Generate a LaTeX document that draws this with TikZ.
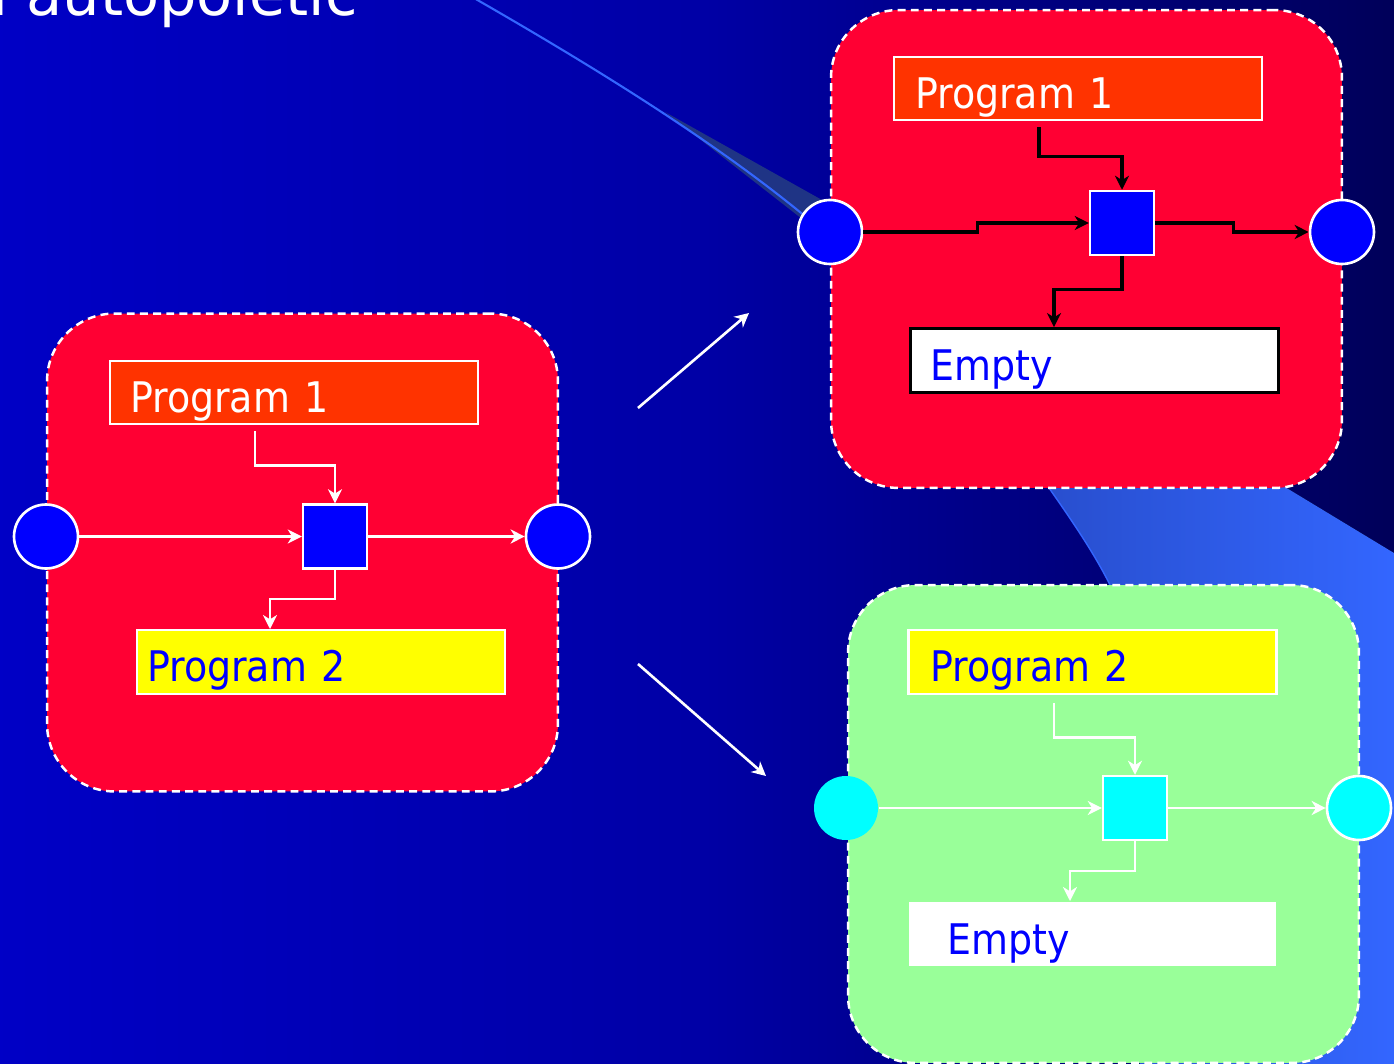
\documentclass[tikz,border=0pt]{standalone}
\usepackage{fontspec}
\setmainfont{DejaVu Sans}[FakeStretch=0.9]
\newfontfamily\titlefont{DejaVu Sans}
\usetikzlibrary{arrows.meta}

\definecolor{framered}{RGB}{255,0,51}
\definecolor{progorange}{RGB}{255,51,0}
\definecolor{framegreen}{RGB}{153,255,153}
\definecolor{progyellow}{RGB}{255,255,0}
\definecolor{procblue}{RGB}{0,0,255}
\definecolor{proccyan}{RGB}{0,255,255}
\definecolor{swoosh}{RGB}{51,102,255}
\definecolor{swooshdark}{RGB}{40,78,205}
\definecolor{wedge}{RGB}{31,52,133}
\pgfdeclarehorizontalshading{slidebg}{100bp}{rgb(0bp)=(0,0,0.9); rgb(50bp)=(0,0,0.65); rgb(75bp)=(0,0,0.35); rgb(100bp)=(0,0,0.12)}

\begin{document}
\begin{tikzpicture}[x=0.02cm, y=-0.02cm,
	frame/.style={draw=white, line width=1.4pt, dash pattern=on 4.5pt off 3pt, rounded corners=1.35cm, minimum width=10.22cm, minimum height=9.56cm},
	prog/.style={draw=white, line width=1.4pt, minimum width=7.36cm, minimum height=1.27cm, text height=0.8cm, text depth=0pt, align=left, font=\fontsize{24}{28}\selectfont},
	port/.style={circle, draw=white, line width=1.5pt, minimum size=1.28cm, inner sep=0pt},
	proc/.style={draw=white, line width=1.4pt, minimum size=1.28cm, inner sep=0pt},
	warrow/.style={white, line width=1.5pt, -{Stealth[length=8pt,width=8pt,inset=2.5pt]}},
	barrow/.style={black, line width=1.8pt, -{Stealth[length=8pt,width=8pt,inset=2.5pt]}}]

		\useasboundingbox (0,0) rectangle (1394,1064);
		\clip (0,0) rectangle (1394,1064);
		\fill[shading=slidebg] (0,0) rectangle (1394,1064);

		% swoosh of the slide
		\fill[left color=swooshdark, right color=swoosh] (1040,470) -- (1049,488) .. controls (1075,525) and (1095,555) .. (1110,585) -- (1140,1064) -- (1394,1064) -- (1394,553) -- (1285,487) -- (1280,470) -- cycle;
		\draw[swoosh, line width=0.8pt] (1049,488) .. controls (1075,525) and (1095,555) .. (1110,585);
		\fill[wedge] (665,112) -- (822,200) -- (806,222) -- cycle;
		\draw[swoosh, line width=1.2pt] (460,-10) .. controls (600,70) and (720,145) .. (812,222);

		\node[anchor=base west, text=white, inner sep=0pt, font=\titlefont\fontsize{33.6}{40}\selectfont] (title) at (-30,16) {n autopoietic};

		\coordinate (up0) at (638,408);
		\coordinate (up1) at (749,313);
		\coordinate (dn0) at (638,664);
		\coordinate (dn1) at (766,776);
		\draw[warrow] (up0) -- (up1);
		\draw[warrow] (dn0) -- (dn1);

		\begin{scope}
			% left system
			\node[frame, fill=framered] (lframe) at (302.5,552.5) {};
			\node[prog, fill=progorange, text=white, text width=6.56cm, inner xsep=0.4cm] (lprog1) at (294,392.5) {Program 1};
			\node[prog, fill=progyellow, text=procblue, text width=6.96cm, inner xsep=0.2cm] (lprog2) at (321,662) {Program 2};
			\node[proc, fill=procblue] (lsq) at (335,536.5) {};
			\node[port, fill=procblue] (lin) at (46,536.5) {};
			\node[port, fill=procblue] (lout) at (558,536.5) {};

			\draw[warrow] ([xshift=-0.78cm,yshift=-0.12cm]lprog1.south) |- ([yshift=0.76cm]lsq.north) -- (lsq.north);
			\draw[warrow] (lin.east) -- (lsq.west);
			\draw[warrow] (lsq.east) -- (lout.west);
			\draw[warrow] (lsq.south) |- ([xshift=-1.02cm,yshift=0.6cm]lprog2.north) -- ([xshift=-1.02cm]lprog2.north);
		\end{scope}

		\begin{scope}
			% top right system
			\node[frame, fill=framered] (tframe) at (1086.5,249) {};
			\node[prog, fill=progorange, text=white, text width=6.52cm, inner xsep=0.42cm] (tprog1) at (1078,88.5) {Program 1};
			\node[prog, fill=white, draw=black, line width=1.9pt, text=procblue, text width=6.56cm, inner xsep=0.4cm] (tempty) at (1094.5,360.5) {Empty};
			\node[proc, fill=procblue] (tsq) at (1122,223) {};
			\node[port, fill=procblue] (tin) at (830,232) {};
			\node[port, fill=procblue] (tout) at (1342,232) {};

			\draw[barrow] ([xshift=-0.78cm,yshift=-0.12cm]tprog1.south) |- ([yshift=0.66cm]tsq.north) -- (tsq.north);
			\draw[barrow] (tin.east) -- ++(114,0) |- (tsq.west);
			\draw[barrow] (tsq.east) -- ++(78,0) |- (tout.west);
			\draw[barrow] (tsq.south) |- ([xshift=-0.81cm,yshift=0.76cm]tempty.north) -- ([xshift=-0.81cm]tempty.north);
		\end{scope}

		\begin{scope}
			% bottom right system
			\node[frame, fill=framegreen] (gframe) at (1103.5,824) {};
			\node[prog, fill=progyellow, text=procblue, text width=6.48cm, inner xsep=0.44cm] (gprog2) at (1092.5,662) {Program 2};
			\node[prog, fill=white, draw=none, text=procblue, text width=5.8cm, inner xsep=0.78cm] (gempty) at (1092.5,934) {Empty};
			\node[proc, fill=proccyan] (gsq) at (1135,808) {};
			\node[port, fill=proccyan, draw=none] (gin) at (846,808) {};
			\node[port, fill=proccyan] (gout) at (1359,808) {};

			\draw[warrow] ([xshift=-0.77cm,yshift=-0.16cm]gprog2.south) |- ([yshift=0.74cm]gsq.north) -- (gsq.north);
			\draw[warrow] (gin.east) -- (gsq.west);
			\draw[warrow] (gsq.east) -- (gout.west);
			\draw[warrow] (gsq.south) |- ([xshift=-0.45cm,yshift=0.6cm]gempty.north) -- ([xshift=-0.45cm]gempty.north);
		\end{scope}

	\end{tikzpicture}
\end{document}
